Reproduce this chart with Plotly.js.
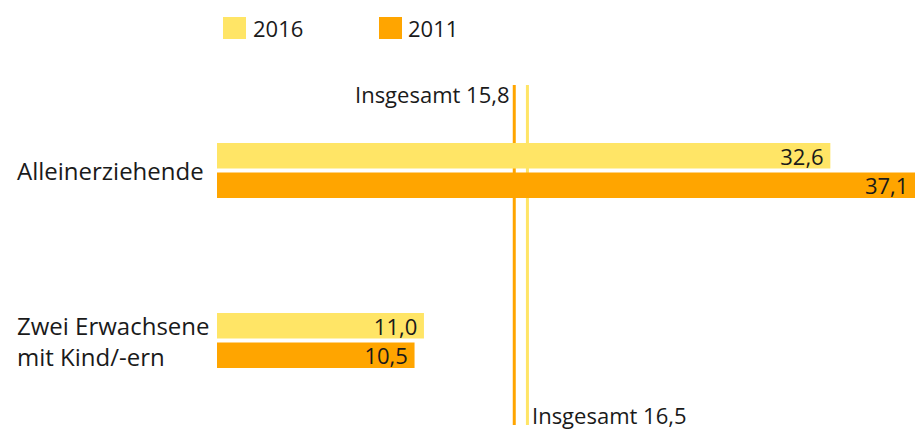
<!DOCTYPE html>
<html>
<head>
<meta charset="utf-8">
<script src="https://cdn.plot.ly/plotly-3.0.1.min.js"></script>
<style>html,body{margin:0;padding:0;background:#fff;}#chart{width:915px;height:430px;}</style>
</head>
<body>
<div id="chart"></div>
<script>
const categories = ['Alleinerziehende', 'Zwei Erwachsene<br>mit Kind/-ern'];
const seriesNames = ['2016', '2011'];
const values2016 = [32.6, 11.0];
const values2011 = [37.1, 10.5];
const total2016 = 16.5;
const total2011 = 15.8;
const colors = ['#ffe566', '#ffa500'];

const FONT = 'Open Sans, sans-serif';
const TXT = '#1a1a1a';
const fmt = v => v.toFixed(1).replace('.', ',');

const W = 698, L = 217, H = 340, B = 5;
const px = x => (x - L) / W;
const py = y => (430 - B - y) / H;

function barTrace(name, vals, color) {
  return {
    type: 'bar', orientation: 'h', name: name,
    y: categories, x: vals,
    marker: {color: color, line: {width: 0}},
    text: vals.map(v => fmt(v) + '\u2009'), textposition: 'inside', insidetextanchor: 'end',
    textfont: {family: FONT, size: 22, color: TXT},
    constraintext: 'none', cliponaxis: false, hoverinfo: 'skip'
  };
}

const data = [
  barTrace(seriesNames[0], values2016, colors[0]),
  barTrace(seriesNames[1], values2011, colors[1])
];

const shapes = [
  {type: 'line', layer: 'below', xref: 'x', yref: 'paper', x0: total2011, x1: total2011, y0: 0, y1: 1, line: {color: colors[1], width: 3}},
  {type: 'line', layer: 'below', xref: 'x', yref: 'paper', x0: total2016, x1: total2016, y0: 0, y1: 1, line: {color: colors[0], width: 3}},
  {type: 'rect', xref: 'paper', yref: 'paper', x0: px(223), x1: px(246), y0: py(39), y1: py(17), fillcolor: colors[0], line: {width: 0}},
  {type: 'rect', xref: 'paper', yref: 'paper', x0: px(379), x1: px(402), y0: py(39), y1: py(17), fillcolor: colors[1], line: {width: 0}}
];

const annotations = [
  {xref: 'paper', yref: 'paper', x: px(251), y: py(28), xanchor: 'left', yanchor: 'middle', text: seriesNames[0], showarrow: false, font: {family: FONT, size: 22, color: TXT}},
  {xref: 'paper', yref: 'paper', x: px(406), y: py(28), xanchor: 'left', yanchor: 'middle', text: seriesNames[1], showarrow: false, font: {family: FONT, size: 22, color: TXT}},
  {xref: 'x', yref: 'paper', x: total2011, y: 1, xanchor: 'right', yanchor: 'top', xshift: -3, yshift: 8, text: 'Insgesamt ' + fmt(total2011), showarrow: false, font: {family: FONT, size: 22, color: TXT}},
  {xref: 'x', yref: 'paper', x: total2016, y: 0, xanchor: 'left', yanchor: 'bottom', xshift: 3, yshift: -7, text: 'Insgesamt ' + fmt(total2016), showarrow: false, font: {family: FONT, size: 22, color: TXT}}
];
categories.forEach(c => annotations.push({
  xref: 'paper', yref: 'y', x: px(15), y: c, xanchor: 'left', yanchor: 'middle', align: 'left',
  text: c, showarrow: false, font: {family: FONT, size: 24, color: TXT}
}));

const layout = {
  width: 915, height: 430,
  margin: {l: L, r: 0, t: 85, b: B, pad: 0},
  paper_bgcolor: '#fff', plot_bgcolor: '#fff',
  showlegend: false,
  barmode: 'group', bargap: 0.653, bargroupgap: 0.1356,
  xaxis: {range: [0, 37.1], visible: false, fixedrange: true},
  yaxis: {type: 'category', range: [1.497, -0.503], showticklabels: false, showgrid: false, zeroline: false, showline: false, ticks: '', fixedrange: true},
  shapes: shapes,
  annotations: annotations,
  font: {family: FONT, color: TXT}
};

Plotly.newPlot('chart', data, layout, {displayModeBar: false, staticPlot: true});
</script>
</body>
</html>
